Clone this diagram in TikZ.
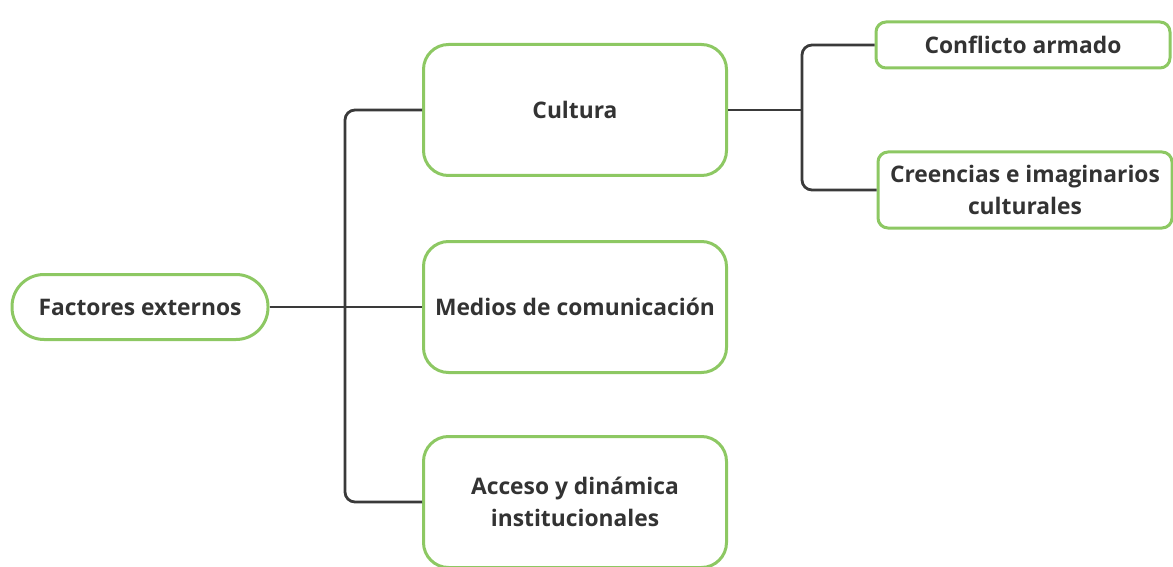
\documentclass[tikz,border=0pt]{standalone}
\usepackage{fontspec}
\setmainfont{Open Sans}
\usepackage{tikz}
\usetikzlibrary{positioning}
\definecolor{verde}{HTML}{8DC863}
\definecolor{gris}{HTML}{3A3A3A}
\definecolor{letra}{HTML}{333333}
\tikzset{R/.style={draw=verde, line width=1.5pt, rounded corners=16pt, minimum width=128pt, minimum height=32.5pt, align=center, text=letra, font=\fontsize{11.4}{16}\selectfont\bfseries}}
\tikzset{M/.style={R, rounded corners=12.5pt, minimum width=151.5pt, minimum height=65.5pt}}
\tikzset{L/.style={R, rounded corners=5pt, minimum width=147pt, minimum height=23pt, inner sep=2pt}}
\tikzset{E/.style={draw=gris, line width=1.4pt, rounded corners=5pt}}

\begin{document}
\begin{tikzpicture}[-, semithick]
\useasboundingbox (0,0) rectangle (586.5pt,-283.5pt);
\node[R] (root) at (70pt,-153.5pt) {Factores externos};
\node[M] (medios) [right of=root, node distance=217.5pt] {Medios de comunicación};
\node[M] (cultura) [above of=medios, node distance=98.5pt] {Cultura};
\node[M] (acceso) [below of=medios, node distance=97.5pt] {Acceso y dinámica\\institucionales};
\node[L] (conflicto) at (511.5pt,-22.5pt) {Conflicto armado};
\node[L, minimum height=38pt] (creencias) at (512.5pt,-95pt) {Creencias e imaginarios\\culturales};
\coordinate (bus1) at (172.5pt,-153.5pt);
\coordinate (bus2) at (401pt,-55pt);
%
\path[E] (root) -- (bus1);
\path[E] (cultura.west) -| (bus1) |- (acceso.west);
\path[E, line width=0.8pt] (bus1) -- (medios.west);
\path[E] (cultura.east) -- (bus2);
\path[E] (conflicto.west) -| (bus2) |- (creencias.west);
\end{tikzpicture}
\end{document}
